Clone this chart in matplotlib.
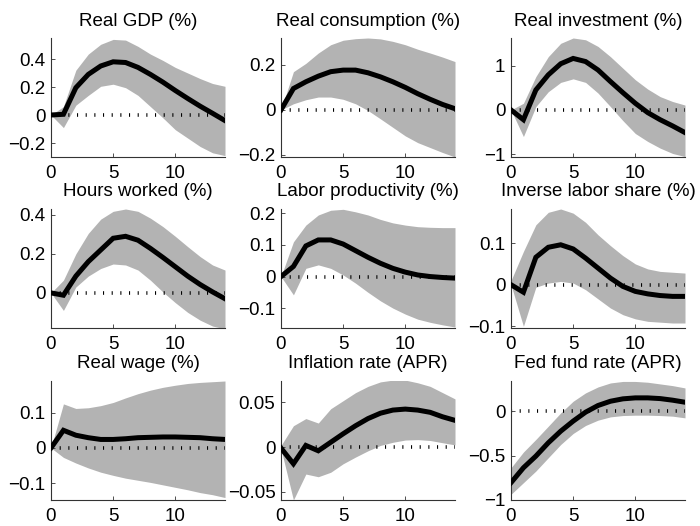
import numpy as np
import matplotlib
matplotlib.use("Agg")
import matplotlib.pyplot as plt

plt.rcParams['font.family'] = ['Liberation Sans', 'DejaVu Sans']

horizon = np.arange(15)

titles = ["Real GDP (%)", "Real consumption (%)", "Real investment (%)",
          "Hours worked (%)", "Labor productivity (%)", "Inverse labor share (%)",
          "Real wage (%)", "Inflation rate (APR)", "Fed fund rate (APR)"]

gdp_mid = [0, 0.005, 0.195, 0.29, 0.35, 0.38, 0.375, 0.34, 0.29, 0.235, 0.175, 0.118, 0.063, 0.012, -0.04]
gdp_hi = [0, 0.06, 0.32, 0.435, 0.505, 0.54, 0.535, 0.49, 0.435, 0.39, 0.34, 0.30, 0.26, 0.225, 0.205]
gdp_lo = [0, -0.09, 0.07, 0.14, 0.205, 0.22, 0.195, 0.14, 0.06, -0.02, -0.105, -0.165, -0.225, -0.27, -0.29]

cons_mid = [0, 0.095, 0.125, 0.15, 0.17, 0.177, 0.177, 0.165, 0.147, 0.125, 0.10, 0.072, 0.047, 0.024, 0.005]
cons_hi = [0, 0.17, 0.207, 0.253, 0.29, 0.31, 0.317, 0.32, 0.316, 0.305, 0.29, 0.27, 0.253, 0.235, 0.215]
cons_lo = [0, 0.027, 0.045, 0.057, 0.057, 0.047, 0.027, -0.003, -0.04, -0.078, -0.116, -0.146, -0.168, -0.19, -0.21]

inv_mid = [0, -0.22, 0.45, 0.79, 1.04, 1.16, 1.09, 0.90, 0.64, 0.39, 0.15, -0.06, -0.22, -0.36, -0.51]
inv_hi = [0, 0.15, 0.75, 1.20, 1.50, 1.62, 1.58, 1.43, 1.20, 0.94, 0.68, 0.47, 0.30, 0.19, 0.11]
inv_lo = [0, -0.60, 0.075, 0.41, 0.62, 0.70, 0.62, 0.38, 0.075, -0.24, -0.53, -0.71, -0.86, -0.98, -1.05]

hrs_mid = [0, -0.012, 0.086, 0.16, 0.22, 0.28, 0.29, 0.27, 0.228, 0.182, 0.134, 0.086, 0.043, 0.005, -0.03]
hrs_hi = [0, 0.065, 0.20, 0.305, 0.378, 0.418, 0.43, 0.418, 0.383, 0.34, 0.29, 0.237, 0.186, 0.143, 0.117]
hrs_lo = [0, -0.09, 0.03, 0.086, 0.125, 0.148, 0.143, 0.117, 0.065, 0.005, -0.05, -0.10, -0.14, -0.17, -0.185]

lp_mid = [0, 0.032, 0.097, 0.116, 0.116, 0.103, 0.082, 0.061, 0.042, 0.026, 0.014, 0.005, 0.0, -0.003, -0.005]
lp_hi = [0, 0.11, 0.163, 0.195, 0.21, 0.213, 0.205, 0.195, 0.181, 0.17, 0.163, 0.158, 0.156, 0.155, 0.155]
lp_lo = [0, -0.058, 0.026, 0.037, 0.026, 0.005, -0.021, -0.05, -0.077, -0.10, -0.119, -0.135, -0.145, -0.153, -0.16]

ils_mid = [0, -0.018, 0.066, 0.09, 0.096, 0.086, 0.064, 0.04, 0.016, -0.004, -0.016, -0.022, -0.026, -0.028, -0.028]
ils_hi = [0.01, 0.08, 0.144, 0.174, 0.182, 0.172, 0.15, 0.12, 0.094, 0.07, 0.05, 0.038, 0.032, 0.03, 0.028]
ils_lo = [0, -0.10, -0.006, 0.004, 0.008, 0.004, -0.012, -0.034, -0.056, -0.072, -0.082, -0.088, -0.09, -0.092, -0.092]

wage_mid = [0, 0.05, 0.036, 0.029, 0.024, 0.024, 0.026, 0.029, 0.03, 0.031, 0.031, 0.03, 0.029, 0.026, 0.024]
wage_hi = [0, 0.125, 0.112, 0.114, 0.12, 0.129, 0.142, 0.154, 0.164, 0.172, 0.178, 0.183, 0.186, 0.188, 0.19]
wage_lo = [0, -0.027, -0.043, -0.057, -0.069, -0.078, -0.086, -0.092, -0.098, -0.105, -0.112, -0.119, -0.127, -0.133, -0.141]

infl_mid = [-0.001, -0.0185, 0.002, -0.004, 0.0055, 0.015, 0.024, 0.032, 0.038, 0.0415, 0.0426, 0.0415, 0.039, 0.034, 0.03]
infl_hi = [0.002, 0.024, 0.032, 0.027, 0.043, 0.052, 0.061, 0.068, 0.073, 0.075, 0.075, 0.072, 0.068, 0.061, 0.054]
infl_lo = [-0.002, -0.059, -0.03, -0.033, -0.028, -0.0185, -0.011, -0.004, 0.002, 0.0055, 0.008, 0.0085, 0.0075, 0.005, 0.0026]

ffr_mid = [-0.805, -0.637, -0.506, -0.356, -0.225, -0.112, -0.011, 0.064, 0.112, 0.139, 0.15, 0.15, 0.142, 0.124, 0.101]
ffr_hi = [-0.637, -0.46, -0.318, -0.169, -0.019, 0.112, 0.206, 0.273, 0.318, 0.335, 0.335, 0.326, 0.307, 0.288, 0.262]
ffr_lo = [-0.936, -0.805, -0.674, -0.524, -0.375, -0.251, -0.161, -0.101, -0.064, -0.049, -0.045, -0.045, -0.049, -0.056, -0.075]

mids = [gdp_mid, cons_mid, inv_mid, hrs_mid, lp_mid, ils_mid, wage_mid, infl_mid, ffr_mid]
his = [gdp_hi, cons_hi, inv_hi, hrs_hi, lp_hi, ils_hi, wage_hi, infl_hi, ffr_hi]
los = [gdp_lo, cons_lo, inv_lo, hrs_lo, lp_lo, ils_lo, wage_lo, infl_lo, ffr_lo]

ylims = [(-0.3, 0.55), (-0.21, 0.32), (-1.06, 1.62),
         (-0.18, 0.43), (-0.163, 0.214), (-0.104, 0.182),
         (-0.148, 0.19), (-0.059, 0.074), (-1.0, 0.34)]
yticks = [[-0.2, 0, 0.2, 0.4], [-0.2, 0, 0.2], [-1, 0, 1],
          [0, 0.2, 0.4], [-0.1, 0, 0.1, 0.2], [-0.1, 0, 0.1],
          [-0.1, 0, 0.1], [-0.05, 0, 0.05], [-1, -0.5, 0]]
ylabels = [["\u22120.2", "0", "0.2", "0.4"], ["\u22120.2", "0", "0.2"], ["\u22121", "0", "1"],
           ["0", "0.2", "0.4"], ["\u22120.1", "0", "0.1", "0.2"], ["\u22120.1", "0", "0.1"],
           ["\u22120.1", "0", "0.1"], ["\u22120.05", "0", "0.05"], ["\u22121", "\u22120.5", "0"]]
xticks = [0, 5, 10]

W, H = 700, 526
fig = plt.figure(figsize=(W / 100, H / 100), dpi=100)
lefts = [51, 281, 511]
bottoms = [157, 328, 500]
aw, ah = 174, 119
fs = 13.5
axcol = '#333333'

for i in range(9):
    r, c = divmod(i, 3)
    ax = fig.add_axes([lefts[c] / W, 1 - bottoms[r] / H, aw / W, ah / H])
    ax.fill_between(horizon, los[i], his[i], color='#b3b3b3', lw=0, zorder=1)
    ax.axhline(0, color='k', lw=2.6, ls=(0, (0.3, 2.1)), dash_capstyle='butt', zorder=2)
    ax.plot(horizon, mids[i], color='k', lw=3.6, zorder=3, solid_joinstyle='miter')
    ax.set_xlim(0, 14)
    ax.set_ylim(*ylims[i])
    ax.set_xticks(xticks)
    ax.set_xticklabels([str(t) for t in xticks])
    ax.set_yticks(yticks[i])
    ax.set_yticklabels(ylabels[i])
    ax.set_title(titles[i], fontsize=fs, pad=9)
    for s in ['top', 'right']:
        ax.spines[s].set_visible(False)
    for s in ['left', 'bottom']:
        ax.spines[s].set_color(axcol)
        ax.spines[s].set_linewidth(0.8)
    ax.tick_params(direction='in', length=3, width=0.6, colors=axcol, labelcolor='k',
                   labelsize=fs)
    ax.tick_params(axis='x', pad=6)
    ax.tick_params(axis='y', pad=4)

fig.savefig("out.png", dpi=100)
